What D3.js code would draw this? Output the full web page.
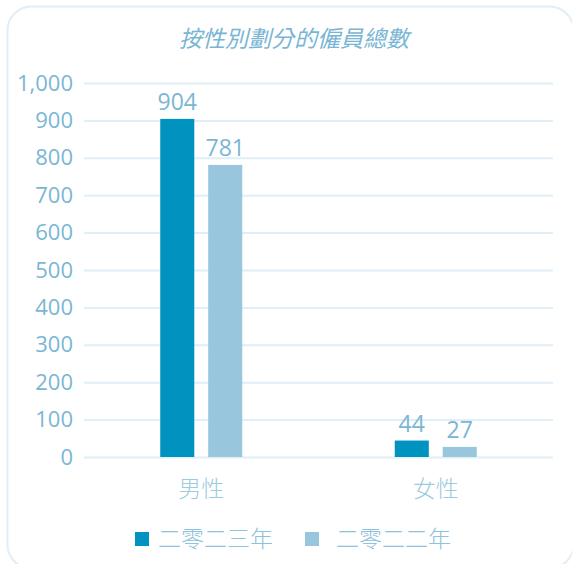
<!DOCTYPE html>
<html><head><meta charset="utf-8">
<script src="https://cdn.jsdelivr.net/npm/d3@7"></script>
<style>html,body{margin:0;padding:0;background:#fff;}svg{display:block;}</style>
</head><body>
<svg id="c" width="572" height="564"></svg>
<script>
const title = "按性別劃分的僱員總數";
const categories = ["男性", "女性"];
const seriesNames = ["二零二三年", "二零二二年"];
const values2023 = [904, 44];
const values2022 = [781, 27];
const tickValues = [0, 100, 200, 300, 400, 500, 600, 700, 800, 900, 1000];
const colors = ["#0093c0", "#98c6dc"];

const svg = d3.select("#c");
const txt = "#7ab6d4";
const font = "'Open Sans','Noto Sans CJK TC',sans-serif";

// frame
svg.append("rect").attr("x", 7.5).attr("y", 6.5).attr("width", 566).attr("height", 562)
  .attr("rx", 24).attr("fill", "#fff").attr("stroke", "#e1eef6").attr("stroke-width", 2);

svg.append("text").attr("x", 294).attr("y", 47).attr("text-anchor", "middle")
  .attr("font-family", "'Noto Sans CJK TC',sans-serif").attr("font-style", "italic")
  .attr("font-size", 23).attr("fill", txt).text(title);

const left = 84, right = 553;
const y = d3.scaleLinear().domain([0, 1000]).range([457, 83]);
const x0 = d3.scaleBand().domain(categories).range([left, right]);
const x1 = d3.scaleBand().domain(seriesNames).range([0, 82]).paddingInner(0.29);

const yAxis = d3.axisLeft(y).tickValues(tickValues).tickSize(-(right - left)).tickPadding(11)
  .tickFormat(d3.format(","));
const gy = svg.append("g").attr("transform", `translate(${left},0)`).call(yAxis);
gy.select(".domain").remove();
gy.selectAll(".tick line").attr("stroke", "#e0eef6").attr("stroke-width", 2);
gy.selectAll(".tick text").attr("fill", txt).attr("font-size", 22).attr("font-family", font);

const data = [values2023, values2022];
categories.forEach((c, ci) => {
  const cx = x0(c) + x0.bandwidth() / 2 - 41;
  seriesNames.forEach((s, si) => {
    const v = data[si][ci];
    svg.append("rect").attr("x", cx + x1(s)).attr("y", y(v)).attr("width", x1.bandwidth())
      .attr("height", y(0) - y(v)).attr("fill", colors[si]);
    svg.append("text").attr("x", cx + x1(s) + x1.bandwidth() / 2).attr("y", y(v) - 9)
      .attr("text-anchor", "middle").attr("font-family", font).attr("font-size", 23)
      .attr("fill", txt).text(v);
  });
  svg.append("text").attr("x", x0(c) + x0.bandwidth() / 2).attr("y", 497)
    .attr("text-anchor", "middle").attr("font-family", "'Noto Sans CJK TC',sans-serif")
    .attr("font-size", 23).attr("font-weight", 300).attr("fill", "#9ccbe0").text(c);
});

const legX = [135, 305];
seriesNames.forEach((s, i) => {
  svg.append("rect").attr("x", legX[i]).attr("y", 532).attr("width", 14).attr("height", 14).attr("fill", colors[i]);
  svg.append("text").attr("x", legX[i] + 23 + (i ? 8 : 0)).attr("y", 547).attr("font-family", "'Noto Sans CJK TC',sans-serif")
    .attr("font-size", 23).attr("font-weight", 300).attr("fill", "#8fc2dc").text(s);
});
</script>
</body></html>
